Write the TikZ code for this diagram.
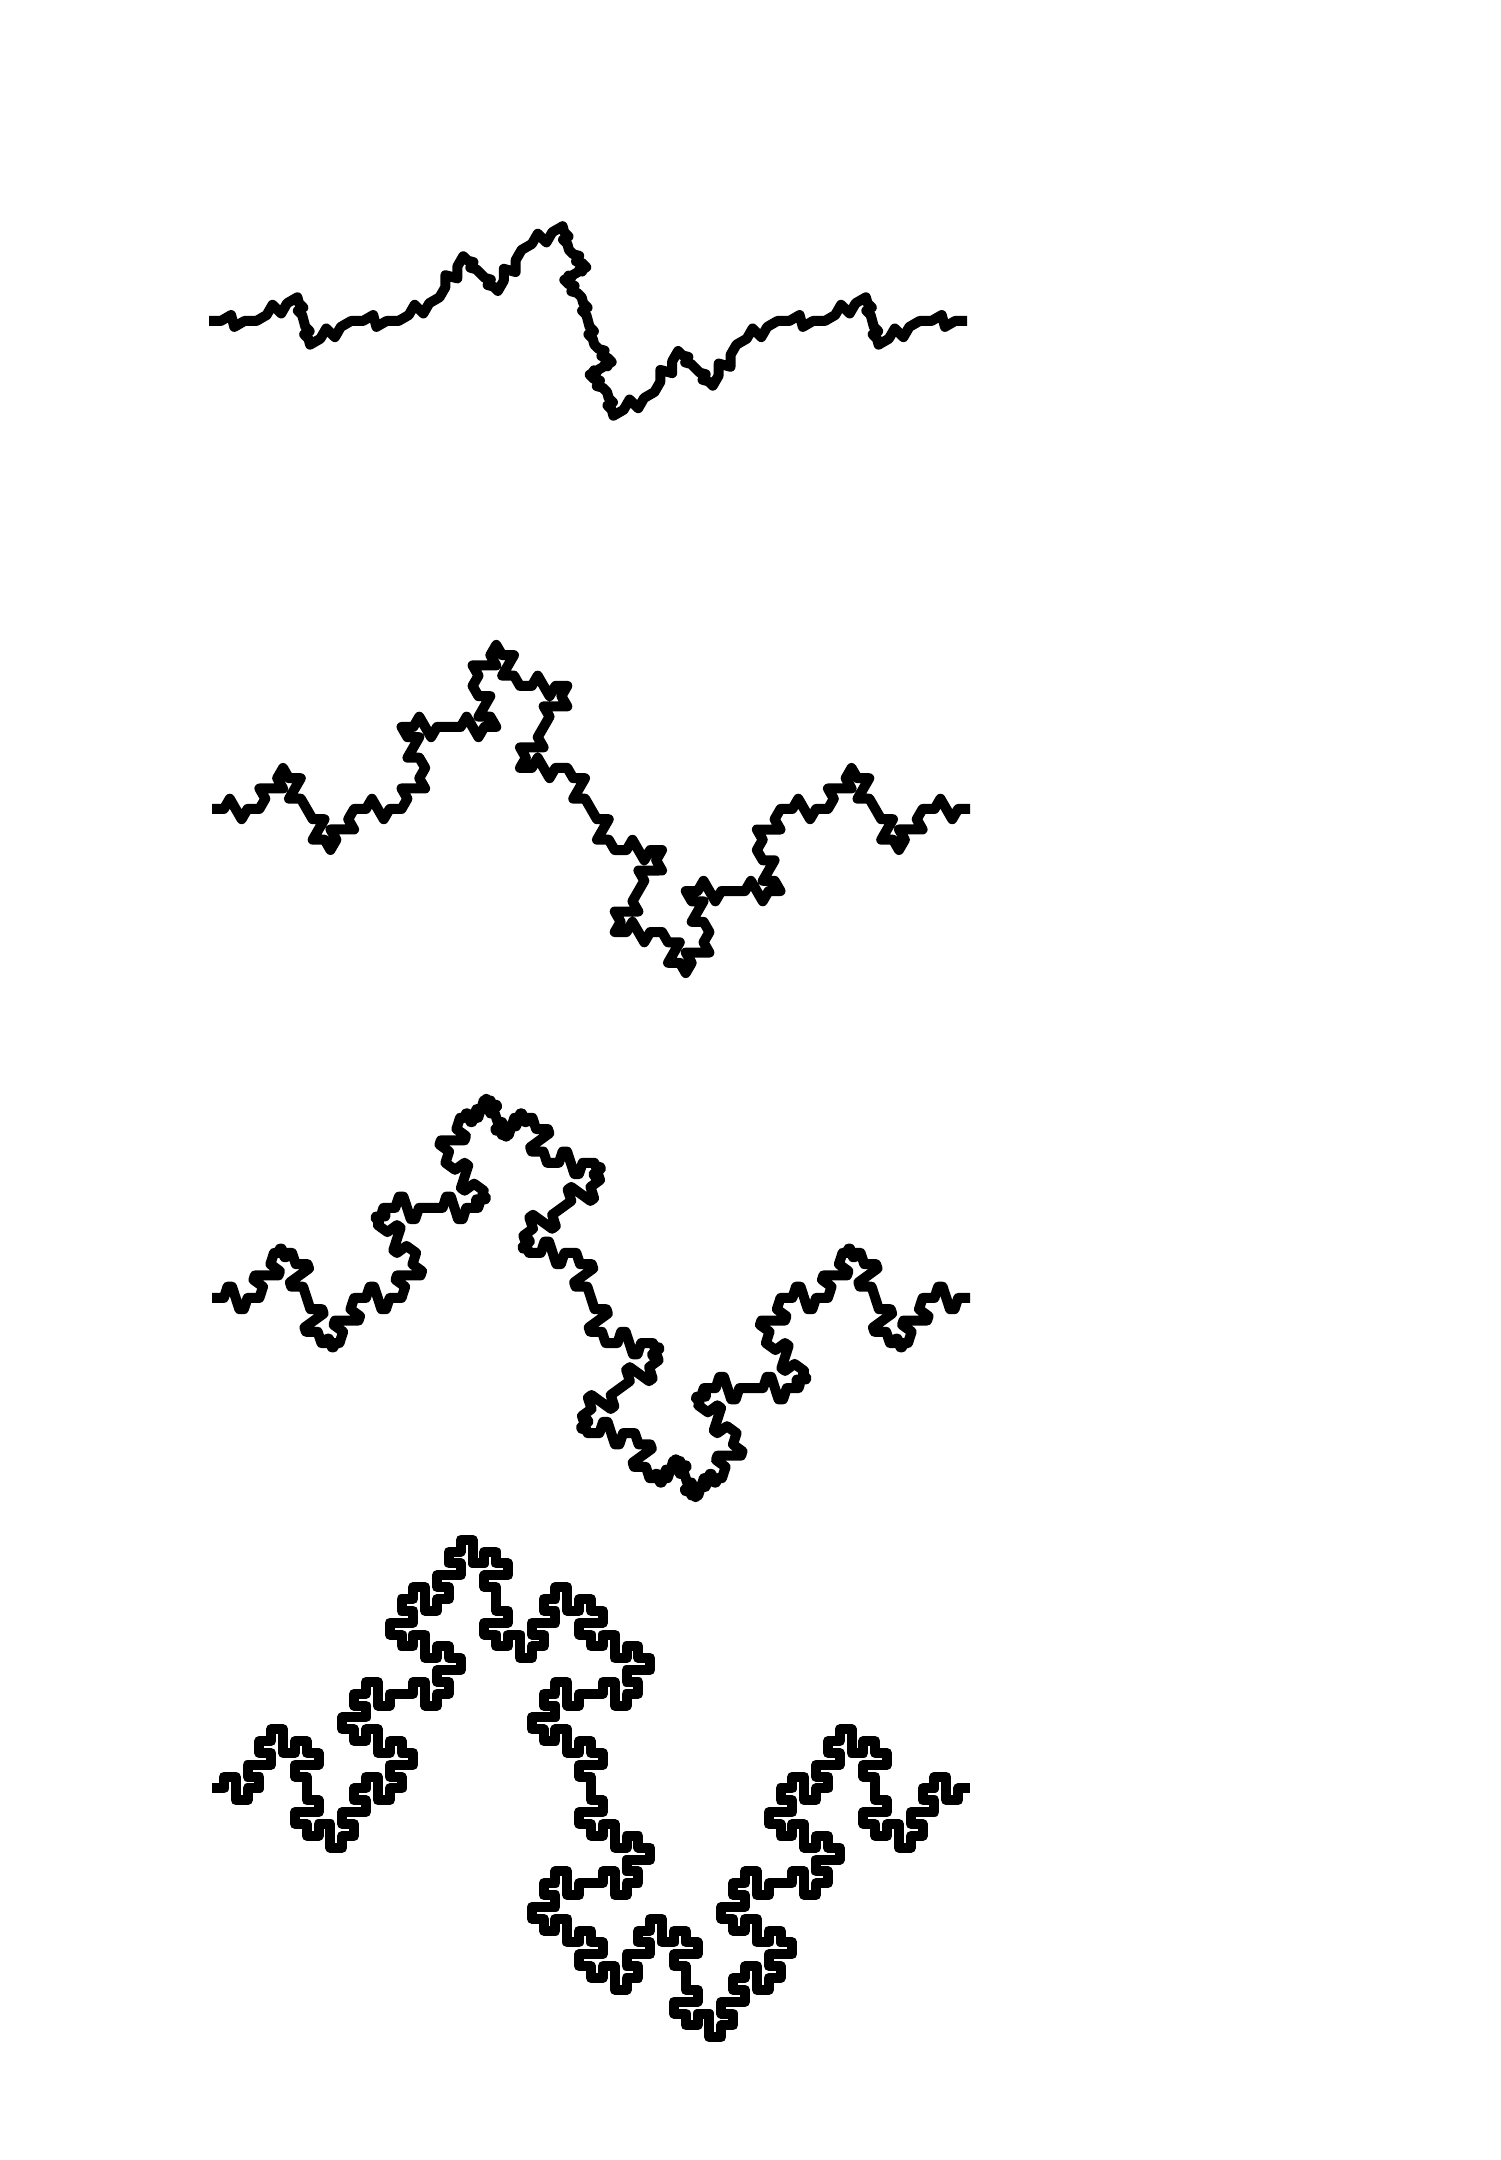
\documentclass[tikz,border=0pt]{standalone}
\usepackage{tikz}

% vertices of the generator (chord from (0,0) to (1,0)) for a given angle
\newcommand{\vx}[1]{\csname vx#1\endcsname}
\newcommand{\vy}[1]{\csname vy#1\endcsname}
\newcommand{\setgenerator}[1]{%
  \pgfmathsetmacro\gc{cos(#1)}%
  \pgfmathsetmacro\gs{sin(#1)}%
  \pgfmathsetmacro\gxa{1+\gc}%
  \pgfmathsetmacro\gxb{max(1+\gc,2-\gc)}%
  \foreach \n/\x/\y in {0/0/0,1/1/0,2/\gxa/\gs,3/\gxb/\gs,4/2/0,5/4-\gxb/-\gs,6/4-\gxa/-\gs,7/3/0,8/4/0}{%
    \pgfmathparse{(\x)/4}\expandafter\xdef\csname vx\n\endcsname{\pgfmathresult}%
    \pgfmathparse{(\y)/4}\expandafter\xdef\csname vy\n\endcsname{\pgfmathresult}%
  }%
}
% three levels: every segment replaced by the generator
\newcommand{\buildcurve}{%
  \gdef\fracpath{}%
  \foreach \i in {0,...,7}{%
    \pgfmathtruncatemacro\ii{\i+1}%
    \pgfmathsetmacro\wix{\vx{\ii}-\vx{\i}}%
    \pgfmathsetmacro\wiy{\vy{\ii}-\vy{\i}}%
    \foreach \j in {0,...,7}{%
      \pgfmathtruncatemacro\jj{\j+1}%
      \pgfmathsetmacro\ax{\vx{\i}+\wix*\vx{\j}-\wiy*\vy{\j}}%
      \pgfmathsetmacro\ay{\vy{\i}+\wix*\vy{\j}+\wiy*\vx{\j}}%
      \pgfmathsetmacro\wjx{\vx{\jj}-\vx{\j}}%
      \pgfmathsetmacro\wjy{\vy{\jj}-\vy{\j}}%
      \pgfmathsetmacro\bx{\wix*\wjx-\wiy*\wjy}%
      \pgfmathsetmacro\by{\wix*\wjy+\wiy*\wjx}%
      \foreach \k in {0,...,7}{%
        \pgfmathsetmacro\px{\ax+\bx*\vx{\k}-\by*\vy{\k}}%
        \pgfmathsetmacro\py{\ay+\bx*\vy{\k}+\by*\vx{\k}}%
        \xdef\fracpath{\fracpath -- (\px,\py)}%
      }%
    }%
  }%
}

\begin{document}
\begin{tikzpicture}
\tikzstyle{curve}=[draw=black,line width=1mm,line join=round]
\fill[white] (0,0) rectangle (15,21.6);
\foreach \ang/\xpos/\ypos in {30/2.09/18.39,60/2.12/13.51,72/2.12/8.62,90/2.12/3.715}{
  \setgenerator{\ang}
  \buildcurve
  \draw[curve,shift={(\xpos cm,\ypos cm)},x=7.58cm,y=7.58cm] (0,0) \fracpath -- (1,0);
}
\end{tikzpicture}
\end{document}
